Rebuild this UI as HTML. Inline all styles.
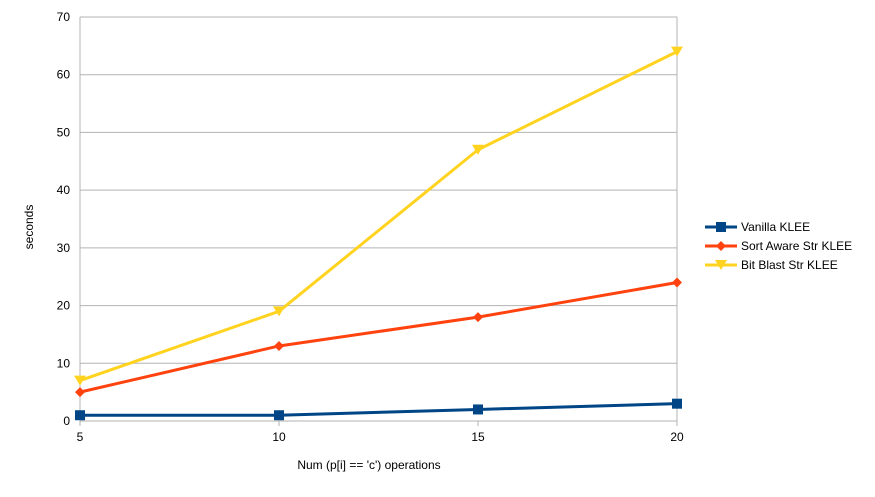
<!DOCTYPE html>
<html><head><meta charset="utf-8"><style>
body{margin:0;background:#fff;font-family:"Liberation Sans",sans-serif}
svg text{font-family:"Liberation Sans",sans-serif;font-size:12px;fill:#000}
</style></head><body>
<svg id="c" width="875" height="492"></svg>
<script>
const categories=[5,10,15,20];
const vanilla=[1,1,2,3];
const sortAware=[5,13,18,24];
const bitBlast=[7,19,47,64];
const yTicks=[0,10,20,30,40,50,60,70];
const seriesNames=["Vanilla KLEE","Sort Aware Str KLEE","Bit Blast Str KLEE"];
const svg=document.getElementById('c');
const NS='http://www.w3.org/2000/svg';
const x0=80,x1=677,y0=421,y1=17;
const xs=v=>x0+(v-5)/15*(x1-x0);
const ys=v=>y0-v/70*(y0-y1);
function mk(t,a,p){const e=document.createElementNS(NS,t);for(const k in a)e.setAttribute(k,a[k]);(p||svg).appendChild(e);return e;}
yTicks.forEach(t=>{
 const g=mk('line',{x1:x0,x2:x1,y1:ys(t),y2:ys(t),stroke:'#b3b3b3','stroke-width':1});
 
 
 const l=mk('text',{x:x0-10,y:ys(t)+4,'text-anchor':'end'});l.textContent=t;
 
 
});
mk('line',{x1:x0,x2:x0,y1:y1,y2:y0,stroke:'#b3b3b3'});
mk('line',{x1:x1,x2:x1,y1:y1,y2:y0,stroke:'#b3b3b3'});
categories.forEach(c=>{
 const l=mk('text',{x:xs(c),y:y0+20,'text-anchor':'middle'});l.textContent=c;
 
 
 mk('line',{x1:xs(c),x2:xs(c),y1:y0,y2:y0+5,stroke:'#b3b3b3'});
});
const yt=mk('text',{x:0,y:0,transform:'translate(33,227) rotate(-90)','text-anchor':'middle'});yt.textContent='seconds';


const xt=mk('text',{x:369,y:469,'text-anchor':'middle'});xt.textContent="Num (p[i] == 'c') operations";


function marker(type,x,y,col,p){
 if(type==='sq')return mk('rect',{x:x-5,y:y-5,width:10,height:10,fill:col},p);
 if(type==='dia')return mk('polygon',{points:`${x},${y-5} ${x+5},${y} ${x},${y+5} ${x-5},${y}`,fill:col},p);
 return mk('polygon',{points:`${x-6},${y-5} ${x+6},${y-5} ${x},${y+5}`,fill:col},p);
}
const series=[[vanilla,'#004586','sq'],[sortAware,'#ff420e','dia'],[bitBlast,'#ffd320','tri']];
series.forEach(([d,col,m],i)=>{
 const g=mk('g',{});
 
 
 mk('polyline',{points:d.map((v,j)=>xs(categories[j])+','+ys(v)).join(' '),fill:'none',stroke:col,'stroke-width':3,'stroke-linejoin':'round'},g);
 d.forEach((v,j)=>{const p=marker(m,xs(categories[j]),ys(v),col,g);
  
  });
 const ly=227+i*19;
 const lg=mk('g',{});
 
 
 mk('line',{x1:705,x2:737,y1:ly,y2:ly,stroke:col,'stroke-width':3},lg);
 marker(m,721,ly,col,lg);
 const t=mk('text',{x:741,y:ly+4},lg);t.textContent=seriesNames[i];
});
</script>
</body></html>
